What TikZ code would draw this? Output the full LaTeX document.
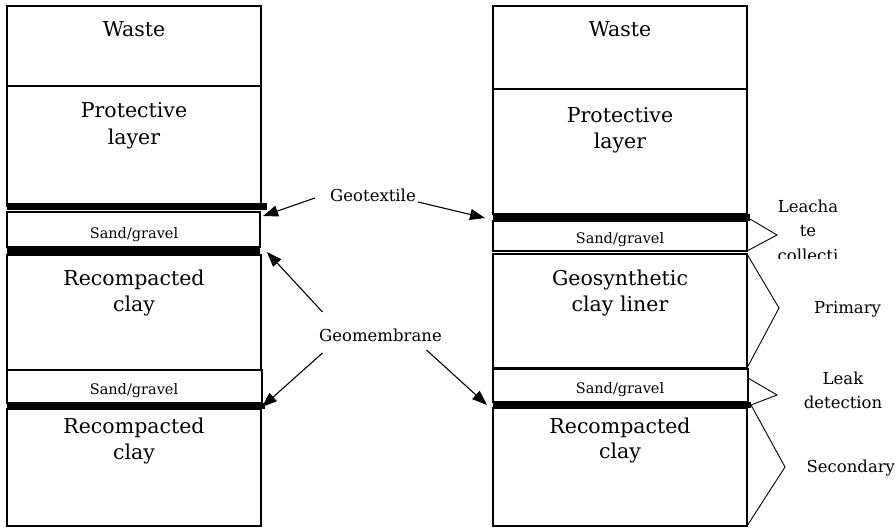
\documentclass[tikz,border=0pt]{standalone}
\usepackage{fontspec}
\setmainfont{DejaVu Serif}
\usetikzlibrary{arrows.meta,calc}
\tikzset{
  lay/.style={rectangle, draw=black, line width=1.4pt, inner sep=0pt, outer sep=0pt, anchor=north west},
  bar/.style={rectangle, fill=black, draw=none, inner sep=0pt, outer sep=0pt, anchor=west},
  big/.style={font=\fontsize{20.5}{25}\selectfont, anchor=base, inner sep=0pt},
  small/.style={font=\fontsize{14.5}{18}\selectfont, anchor=base, inner sep=0pt},
  lbl/.style={font=\fontsize{16.5}{20}\selectfont, anchor=base, inner sep=0pt},
  arr/.style={line width=1.1pt, -{Triangle[length=15pt,width=11pt]}},
  brk/.style={line width=0.9pt},
}
\begin{document}
\begin{tikzpicture}[x=1pt,y=-1pt]
\useasboundingbox (0,0) rectangle (896,527);

% ---------- left column ----------
\node[lay, minimum width=254, minimum height=80]  (lwaste) at (7,6) {};
\node[lay, minimum width=254, minimum height=120] (lprot)  at (7,86) {};
\node[lay, minimum width=253, minimum height=35]  (lsand1) at (7,212) {};
\node[lay, minimum width=254, minimum height=115] (lclay1) at (7,255) {};
\node[lay, minimum width=255, minimum height=33]  (lsand2) at (7,370) {};
\node[lay, minimum width=254, minimum height=117] (lclay2) at (7,409) {};
\node[bar, minimum width=260, minimum height=7]   (lgt)  at (7,206.5) {};
\node[bar, minimum width=253, minimum height=7]   (lgm1) at (7,251.5) {};
\node[bar, minimum width=258, minimum height=6.5] (lgm2) at (7,406) {};

\node[big]   (tlwaste)  at (134,37)  {Waste};
\node[big]   (tlprota)  at (134,117) {Protective};
\node[big]   (tlprotb)  at (134,144) {layer};
\node[small] (tlsanda)  at (134,238) {Sand/gravel};
\node[big]   (tlclayaa) at (134,285) {Recompacted};
\node[big]   (tlclayab) at (134,311) {clay};
\node[small] (tlsandb)  at (134,394) {Sand/gravel};
\node[big]   (tlclayba) at (134,433) {Recompacted};
\node[big]   (tlclaybb) at (134,459) {clay};

% ---------- right column ----------
\node[lay, minimum width=254, minimum height=83]  (rwaste) at (493,6) {};
\node[lay, minimum width=254, minimum height=125] (rprot)  at (493,89) {};
\node[lay, minimum width=254, minimum height=30]  (rsand1) at (493,221) {};
\node[lay, minimum width=254, minimum height=114] (rgcl)   at (493,254) {};
\node[lay, minimum width=255, minimum height=33]  (rsand2) at (493,369) {};
\node[lay, minimum width=254, minimum height=118] (rclay)  at (493,408) {};
\node[bar, minimum width=257, minimum height=7]   (rgt) at (493,217.5) {};
\node[bar, minimum width=258, minimum height=6.5] (rgm) at (493,405) {};

\node[big]   (trwaste) at (620,37)  {Waste};
\node[big]   (trprota) at (620,122) {Protective};
\node[big]   (trprotb) at (620,148) {layer};
\node[small] (trsanda) at (620,243) {Sand/gravel};
\node[big]   (trgcla)  at (620,285) {Geosynthetic};
\node[big]   (trgclb)  at (620,311.5) {clay liner};
\node[small] (trsandb) at (620,393.5) {Sand/gravel};
\node[big]   (trclaya) at (620,433) {Recompacted};
\node[big]   (trclayb) at (620,458) {clay};

% ---------- middle labels and arrows ----------
\node[lbl] (geotex) at (373,201) {Geotextile};
\node[lbl] (geomem) at (380.5,341) {Geomembrane};

\coordinate (gtl) at ($(geotex.base)+(-58,-3)$);
\coordinate (gtr) at ($(geotex.base)+(45,1)$);
\coordinate (gma) at ($(geomem.base)+(-58,-29)$);
\coordinate (gmb) at ($(geomem.base)+(-58,12)$);
\coordinate (gmc) at ($(geomem.base)+(46,9)$);

\draw[arr] (gtl) -- ($(lsand1.north east)+(3,4)$);
\draw[arr] (gtr) -- ($(rgt.west)+(-8,0.5)$);
\draw[arr] (gma) -- ($(lgm1.east)+(7,0.5)$);
\draw[arr] (gmb) -- ($(lgm2.east)+(-3,1)$);
\draw[arr] (gmc) -- ($(rgm.west)+(-6,0)$);

% ---------- right brackets ----------
\coordinate (tipl) at (777,235);
\coordinate (tipp) at (779,308);
\coordinate (tipd) at (777,395);
\coordinate (tips) at (785,467);
\draw[brk] ($(rgt.east)+(0,1.5)$) -- (tipl) -- (rsand1.south east);
\draw[brk] (rgcl.north east) -- (tipp) -- (rgcl.south east);
\draw[brk] ($(rsand2.north east)+(0,9)$) -- (tipd) -- (rgm.east);
\draw[brk] (rgm.east) -- (tips) -- (rclay.south east);

\begin{scope}
  \clip (760,190) rectangle (880,258.5);
  \node[lbl] (lcha) at (808,212.3) {Leacha};
  \node[lbl] (lchb) at (808,236.7) {te};
  \node[lbl] (lchc) at (808,261)   {collecti};
\end{scope}
\node[lbl] (prim) at (847.5,313.3) {Primary};
\node[lbl] (leaka) at (843,384.3) {Leak};
\node[lbl] (leakb) at (843,408.3) {detection};
\node[lbl] (secd) at (850.8,472.7) {Secondary};
\end{tikzpicture}
\end{document}
